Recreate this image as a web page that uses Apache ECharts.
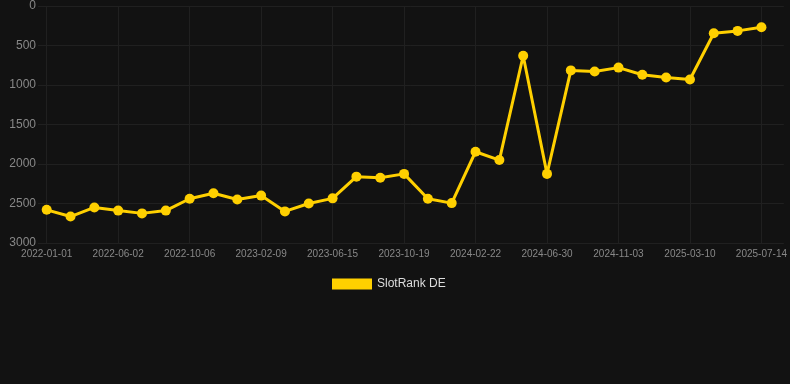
<!DOCTYPE html>
<html>
<head>
<meta charset="utf-8">
<script src="https://cdn.jsdelivr.net/npm/echarts@6/dist/echarts.min.js"></script>
<style>
  html, body { margin: 0; padding: 0; background: #121212; }
  #chart { width: 790px; height: 384px; }
</style>
</head>
<body>
<div id="chart"></div>
<script>
const dates = [
  '2022-01-01', '2022-02-20', '2022-04-11', '2022-06-02', '2022-07-14', '2022-08-25',
  '2022-10-06', '2022-11-16', '2022-12-29', '2023-02-09', '2023-03-23', '2023-05-04',
  '2023-06-15', '2023-07-27', '2023-09-07', '2023-10-19', '2023-11-30', '2024-01-11',
  '2024-02-22', '2024-04-03', '2024-05-17', '2024-06-30', '2024-08-10', '2024-09-22',
  '2024-11-03', '2024-12-15', '2025-01-27', '2025-03-10', '2025-04-21', '2025-06-02',
  '2025-07-14'
]
const rankDE = [
  2580, 2665, 2550, 2590, 2625, 2590,
  2440, 2370, 2450, 2400, 2600, 2500,
  2435, 2160, 2175, 2125, 2440, 2495,
  1845, 1950, 630, 2125, 815, 830,
  780, 870, 905, 930, 345, 315,
  270
]
const labelIndexes = [0, 3, 6, 9, 12, 15, 18, 21, 24, 27, 30]

const gridColor = '#202020'
const lineColor = '#FFD000'
const font = 'Liberation Sans, Arial, sans-serif'

const chart = echarts.init(document.getElementById('chart'))
chart.setOption({
  backgroundColor: '#121212',
  animation: false,
  grid: { left: 38, right: 6, top: 6, bottom: 141 },
  legend: {
    left: 327,
    top: 273,
    icon: 'rect',
    itemWidth: 40,
    itemHeight: 11,
    itemGap: 10,
    textStyle: { color: '#dddddd', fontSize: 12, fontFamily: font },
    data: ['SlotRank DE'],
  },
  xAxis: {
    type: 'value',
    min: -0.365,
    max: 30.94,
    axisLine: { show: false },
    axisTick: {
      show: true,
      length: 6,
      customValues: labelIndexes,
      lineStyle: { color: gridColor },
    },
    axisLabel: {
      customValues: labelIndexes,
      color: '#888888',
      fontSize: 10,
      margin: 6,
      fontFamily: font,
      formatter: (v) => dates[Math.round(v)] || '',
    },
    splitLine: { show: true, lineStyle: { color: gridColor } },
  },
  yAxis: {
    type: 'value',
    inverse: true,
    min: 0,
    max: 3000,
    interval: 500,
    axisLine: { show: false },
    axisTick: { show: false },
    axisLabel: {
      color: '#888888',
      fontSize: 12,
      margin: 2,
      fontFamily: font,
      formatter: (v) => String(v),
    },
    splitLine: { show: true, lineStyle: { color: gridColor } },
  },
  series: [
    {
      name: 'SlotRank DE',
      type: 'line',
      data: rankDE.map((v, i) => [i, v]),
      color: lineColor,
      symbol: 'circle',
      symbolSize: 10,
      lineStyle: { width: 3, color: lineColor },
      itemStyle: { color: lineColor },
    },
  ],
})
</script>
</body>
</html>
